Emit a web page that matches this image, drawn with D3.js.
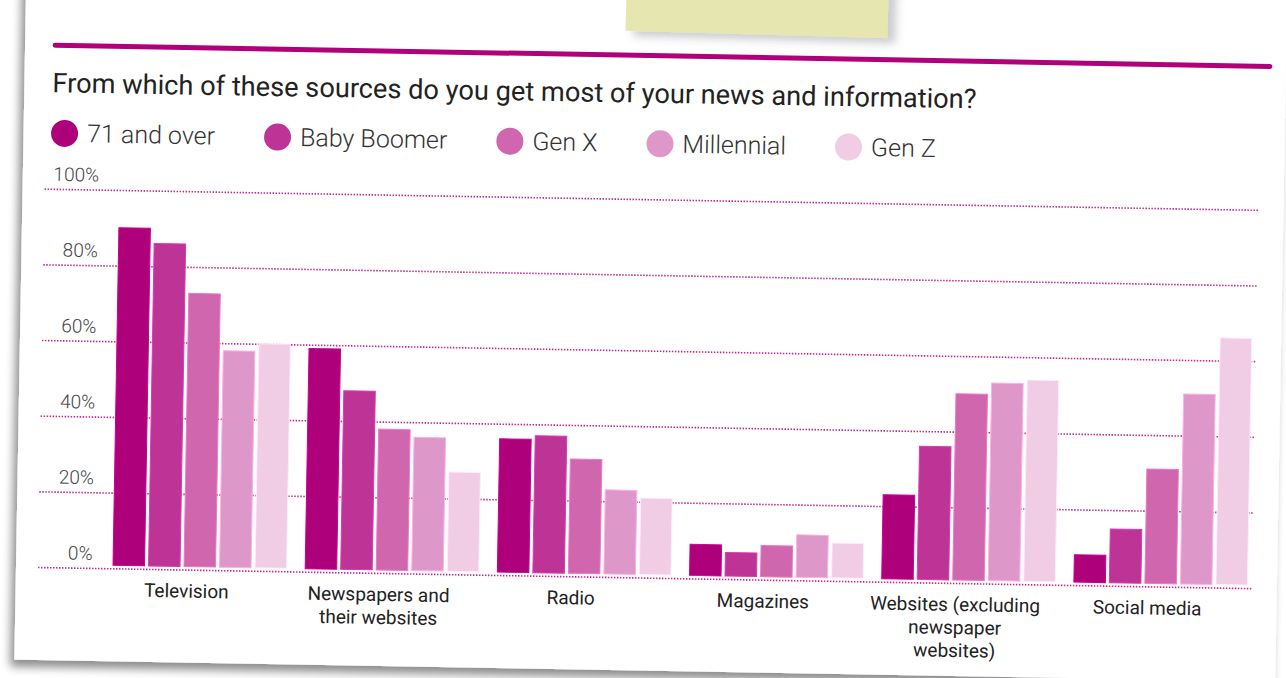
<!DOCTYPE html>
<html lang="en">
<head>
    <meta charset="UTF-8">
    <title>News sources by generation</title>
    <script src="https://d3js.org/d3.v7.min.js"></script>
    <style>
        body { margin: 0; background: #fff; }
        text { font-family: Roboto, "Open Sans", sans-serif; }
    </style>
</head>
<body>
    <script>
        // data (percent of each generation)
        var categories = ["Television", "Newspapers and their websites", "Radio", "Magazines",
                          "Websites (excluding newspaper websites)", "Social media"];
        var categoryLines = [["Television"], ["Newspapers and", "their websites"], ["Radio"], ["Magazines"],
                             ["Websites (excluding", "newspaper", "websites)"], ["Social media"]];
        var series = ["71 and over", "Baby Boomer", "Gen X", "Millennial", "Gen Z"];
        var seventyOne = [90, 59, 36, 9, 23, 8];
        var babyBoomer = [86, 48, 37, 7, 36, 15];
        var genX       = [73, 38, 31, 9, 50, 31];
        var millennial = [58, 36, 23, 12, 53, 51];
        var genZ       = [60, 27, 21, 10, 54, 66];
        var yTicks = [0, 20, 40, 60, 80, 100];
        var title = "From which of these sources do you get most of your news and information?";

        var colors = ["#ae007a", "#bd3396", "#cf66ae", "#dd97c9", "#f0cce5"];
        var seriesValues = [seventyOne, babyBoomer, genX, millennial, genZ];

        var rows = [];
        categories.forEach(function (c, i) {
            series.forEach(function (s, j) {
                rows.push({cat: c, series: s, value: seriesValues[j][i]});
            });
        });

        var w = 1286, h = 678;
        var left = 38, right = 1252;
        var svg = d3.select("body").append("svg")
                    .attr("width", w)
                    .attr("height", h);

        var defs = svg.append("defs");
        var sh = defs.append("filter").attr("id", "cardShadow")
                     .attr("x", "-5%").attr("y", "-5%").attr("width", "110%").attr("height", "115%");
        sh.append("feDropShadow").attr("dx", -4).attr("dy", 7).attr("stdDeviation", 5)
          .attr("flood-color", "#000").attr("flood-opacity", 0.45);
        var tsh = defs.append("filter").attr("id", "tapeShadow")
                      .attr("x", "-20%").attr("y", "-50%").attr("width", "140%").attr("height", "200%");
        tsh.append("feDropShadow").attr("dx", 8).attr("dy", 5).attr("stdDeviation", 4)
           .attr("flood-color", "#556").attr("flood-opacity", 0.3);

        // whole card is tilted by about one degree
        var card = svg.append("g").attr("transform", "rotate(1, 38, 567)");

        card.append("rect")
            .attr("x", 16).attr("y", -120)
            .attr("width", 1261).attr("height", 780)
            .attr("fill", "#fff")
            .attr("filter", "url(#cardShadow)");

        // tape
        card.append("rect")
            .attr("x", 616).attr("y", -60)
            .attr("width", 262).attr("height", 82)
            .attr("fill", "#e5e6b0")
            .attr("transform", "rotate(0.6, 746, 20)")
            .attr("filter", "url(#tapeShadow)");

        // header rule
        card.append("line")
            .attr("x1", 46).attr("x2", 1261)
            .attr("y1", 45).attr("y2", 45)
            .attr("stroke", "#b0007a")
            .attr("stroke-width", 5)
            .attr("stroke-linecap", "round");

        card.append("text")
            .attr("x", 44).attr("y", 92)
            .attr("font-size", 27.2)
            .attr("fill", "#222")
            .text(title);

        // legend
        var legend = card.append("g");
        var lx = 57;
        series.forEach(function (s, i) {
            legend.append("circle")
                .attr("cx", lx).attr("cy", 133).attr("r", 13.5)
                .attr("fill", colors[i]);
            var t = legend.append("text")
                .attr("x", lx + 22.5).attr("y", 141.5)
                .attr("font-size", 25)
                .attr("font-weight", 300)
                .attr("fill", "#333")
                .text(s);
            lx += 22.5 + t.node().getComputedTextLength() + 49 + 13.5;
        });

        // scales
        var y = d3.scaleLinear().domain([0, 100]).range([567, 188.6]);
        var x0 = d3.scaleBand().domain(categories)
                   .range([103.65, 1256.85])
                   .paddingInner(0.097).paddingOuter(0.0485);
        var x1 = d3.scaleBand().domain(series)
                   .range([0, x0.bandwidth()])
                   .paddingInner(0.113);
        var color = d3.scaleOrdinal().domain(series).range(colors);

        // dotted gridlines
        card.append("g")
            .attr("transform", "translate(" + left + ",0)")
            .call(d3.axisLeft(y).tickValues(yTicks).tickSize(-(right - left)).tickFormat(""))
            .call(function (g) { g.select(".domain").remove(); })
            .selectAll("line")
            .attr("stroke", "#c42a8e")
            .attr("stroke-width", 1.6)
            .attr("stroke-dasharray", "1.5,1.5");

        // tick labels sit above their lines
        card.append("g")
            .attr("transform", "translate(92.3,0)")
            .call(d3.axisLeft(y).tickValues(yTicks).tickSize(0).tickPadding(0).tickFormat(function (d) { return d + "%"; }))
            .call(function (g) { g.select(".domain").remove(); })
            .selectAll("text")
            .attr("dy", "-0.45em")
            .attr("font-size", 19)
            .attr("font-weight", 300)
            .attr("fill", "#444")
            .attr("font-family", "Roboto, sans-serif");

        // bars
        card.append("g").selectAll("rect")
            .data(rows)
            .join("rect")
            .attr("x", function (d) { return x0(d.cat) + x1(d.series); })
            .attr("y", function (d) { return y(d.value); })
            .attr("width", x1.bandwidth())
            .attr("height", function (d) { return y(0) - 3 - y(d.value); })
            .attr("fill", function (d) { return color(d.series); })
            .attr("stroke", function (d) { return d3.color(color(d.series)).brighter(0.4); })
            .attr("stroke-width", 1);

        // category labels
        var labels = card.append("g").selectAll("text")
            .data(categories)
            .join("text")
            .attr("x", function (d) { return x0(d) + x0.bandwidth() / 2 - 13; })
            .attr("y", y(0) + 28)
            .attr("text-anchor", "middle")
            .attr("font-size", 19)
            .attr("fill", "#222");
        labels.each(function (d, i) {
            var el = d3.select(this);
            categoryLines[i].forEach(function (line, k) {
                el.append("tspan")
                  .attr("x", el.attr("x"))
                  .attr("dy", k === 0 ? 0 : 23)
                  .text(line);
            });
        });
    </script>
</body>
</html>
